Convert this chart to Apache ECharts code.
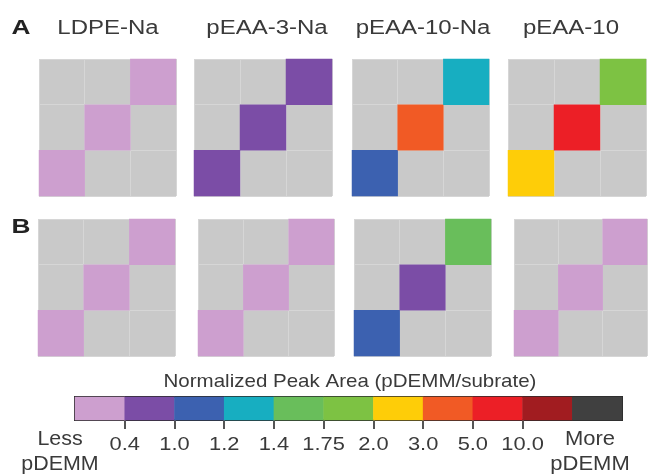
<!DOCTYPE html>
<html><head><meta charset="utf-8">
<script src="https://cdn.jsdelivr.net/npm/echarts@6/dist/echarts.min.js"></script>
<style>html,body{margin:0;padding:0;background:#fff}#c{width:648px;height:474px}</style>
</head><body><div id="c"></div>
<script>
// ---- data ----
const samples = ['LDPE-Na', 'pEAA-3-Na', 'pEAA-10-Na', 'pEAA-10'];
const rowLabels = ['A', 'B'];
const cellCats = ['1', '2', '3'];
// diagonal values per panel: bottom-left, middle, top-right
const rowA = [[0.3, 0.3, 0.3], [0.7, 0.7, 0.7], [1.1, 4.0, 1.3], [2.5, 7.0, 1.9]];
const rowB = [[0.3, 0.3, 0.3], [0.3, 0.3, 0.3], [1.1, 0.7, 1.6], [0.3, 0.3, 0.3]];
const binEdges = [0.4, 1.0, 1.2, 1.4, 1.75, 2.0, 3.0, 5.0, 10.0];
const tickLabels = ['0.4', '1.0', '1.2', '1.4', '1.75', '2.0', '3.0', '5.0', '10.0'];
const binColors = ['#cd9fcf', '#7b4da6', '#3c61b0', '#17aec1', '#69be5b', '#7dc243', '#fecd08', '#f15a25', '#ec1f26', '#a11c20', '#404040'];
const colorbarTitle = 'Normalized Peak Area (pDEMM/subrate)';
const endLabels = ['Less\npDEMM', 'More\npDEMM'];

// ---- layout ----
const panelBoxes = [
  [39, 59, 137, 137], [194, 59, 138, 137], [352, 59, 137, 137], [508, 59, 138, 137],
  [38, 219, 137, 137], [198, 219, 136, 137], [354, 219, 137, 137], [514, 219, 133, 137]
];
const FONT = '"Liberation Sans", Arial, sans-serif';

const grids = [], xAxes = [], yAxes = [], series = [];
const rows = [rowA, rowB];
let gi = 0;
rows.forEach((row) => {
  row.forEach((vals) => {
    const b = panelBoxes[gi];
    grids.push({left: b[0], top: b[1], width: b[2], height: b[3], show: true,
      backgroundColor: '#c9c9c9', borderWidth: 0, containLabel: false});
    const ax = {gridIndex: gi, type: 'category', data: cellCats,
      axisLine: {show: false}, axisTick: {show: false}, axisLabel: {show: false},
      splitLine: {show: true, lineStyle: {color: '#d6d6d6', width: 1}}};
    xAxes.push(Object.assign({}, ax));
    yAxes.push(Object.assign({}, ax));
    series.push({type: 'heatmap', xAxisIndex: gi, yAxisIndex: gi,
      data: vals.map((v, k) => [k, k, v]),
      itemStyle: {borderWidth: 0}, emphasis: {disabled: true}, silent: true});
    gi++;
  });
});

// colorbar grid
const cbIdx = gi;
grids.push({left: 75, top: 397, width: 547, height: 23, show: true,
  backgroundColor: 'transparent', borderColor: '#2a2a2a', borderWidth: 2});
xAxes.push({gridIndex: cbIdx, type: 'category', data: binColors.map((c, i) => String(i)),
  show: false});
const cbValueAxis = xAxes.length;
const tickValues = tickLabels.map((t, i) => i + 1);
xAxes.push({gridIndex: cbIdx, type: 'value', min: 0, max: binColors.length, position: 'bottom',
  axisLine: {show: false}, splitLine: {show: false},
  axisTick: {show: true, length: 9, customValues: tickValues,
    lineStyle: {color: '#555', width: 2}},
  axisLabel: {show: false}});
yAxes.push({gridIndex: cbIdx, type: 'category', data: ['0'], show: false});
const cbSeries = series.length;
series.push({type: 'heatmap', xAxisIndex: cbIdx, yAxisIndex: cbIdx,
  data: binColors.map((c, i) => [i, 0, i]), itemStyle: {borderWidth: 0},
  emphasis: {disabled: true}, silent: true, z: 1});

// pieces
const valuePieces = [];
for (let i = 0; i <= binEdges.length; i++) {
  const p = {color: binColors[i]};
  if (i > 0) p.gte = binEdges[i - 1];
  if (i < binEdges.length) p.lt = binEdges[i];
  valuePieces.push(p);
}
const panelSeriesIdx = series.map((s, i) => i).filter(i => i !== cbSeries);

// text
function txt(text, x, y, size, opts) {
  opts = opts || {};
  return {type: 'text', x: x, y: y, scaleX: opts.sx || 1, silent: true,
    style: {text: text, fontSize: size, fontFamily: FONT, fontWeight: opts.bold ? 'bold' : 'normal',
      fill: opts.color || '#3a3a3a', align: 'center', textAlign: 'center',
      verticalAlign: 'middle', textVerticalAlign: 'middle', lineHeight: opts.lh || size}};
}
const titleX = [108, 267, 423, 571];
const graphics = [];
graphics.push(txt(rowLabels[0], 21, 28.5, 21, {bold: true, sx: 1.25, color: '#222'}));
graphics.push(txt(rowLabels[1], 21, 227.5, 21, {bold: true, sx: 1.25, color: '#222'}));
samples.forEach((s, i) => graphics.push(txt(s, titleX[i], 28, 20, {sx: 1.2})));
graphics.push(txt(colorbarTitle, 350, 382, 19, {sx: 1.08}));
graphics.push(txt(endLabels[0], 60, 452, 20, {sx: 1.07, lh: 25.5}));
graphics.push(txt(endLabels[1], 590, 452, 20, {sx: 1.1, lh: 25.5}));

const chart = echarts.init(document.getElementById('c'), null, {renderer: 'canvas'});
chart.setOption({
  animation: false,
  backgroundColor: '#fff',
  grid: grids, xAxis: xAxes, yAxis: yAxes, series: series,
  visualMap: [
    {type: 'piecewise', show: false, seriesIndex: panelSeriesIdx, pieces: valuePieces},
    {type: 'piecewise', show: false, seriesIndex: cbSeries,
      pieces: binColors.map((c, i) => ({value: i, color: c}))}
  ],
  graphic: {elements: graphics}
});
// tick labels placed at the colorbar axis positions via the library's scale
tickValues.forEach((v, i) => {
  const px = chart.convertToPixel({xAxisIndex: cbValueAxis}, v);
  graphics.push(txt(tickLabels[i], px, 445, 19, {sx: 1.15}));
});
chart.setOption({graphic: {elements: graphics}});
</script>
</body></html>
